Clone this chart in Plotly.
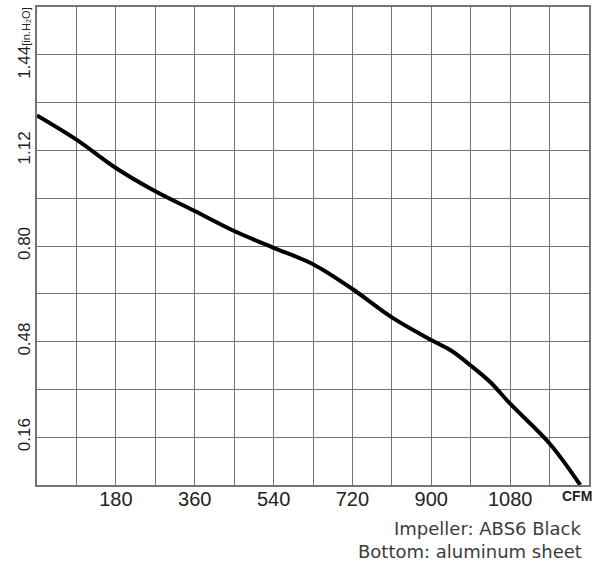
import plotly.graph_objects as go

# Data
cfm = [0, 90, 180, 270, 360, 450, 540, 630, 720, 810, 900, 945, 990, 1035, 1080, 1170, 1240]
pressure = [1.237, 1.156, 1.061, 0.983, 0.917, 0.850, 0.794, 0.739, 0.656, 0.561,
            0.485, 0.450, 0.400, 0.344, 0.272, 0.139, 0.0]

x_tick_vals = [180, 360, 540, 720, 900, 1080]
x_tick_text = ["180", "360", "540", "720", "900", "1080"]
y_tick_vals = [0.16, 0.48, 0.80, 1.12]
y_tick_text = ["0.16", "0.48", "0.80", "1.12"]
y_top_label = "1.44"
y_unit = "[in.H\u2082O]"
x_unit = "CFM"
note_lines = ["Impeller: ABS6 Black", "Bottom: aluminum sheet"]

GRID = "#747474"
NARROW = "Liberation Sans Narrow, Arial Narrow, Liberation Sans, sans-serif"

fig = go.Figure()
fig.add_trace(go.Scatter(
    x=cfm, y=pressure, mode="lines",
    line=dict(color="#000000", width=4, shape="spline", smoothing=1.0),
    hoverinfo="skip", showlegend=False,
))

fig.update_layout(
    width=606, height=564,
    margin=dict(l=37, r=17, t=5, b=79),
    paper_bgcolor="white", plot_bgcolor="white",
    xaxis=dict(
        range=[0, 1260], tickmode="array", tickvals=x_tick_vals, ticktext=x_tick_text,
        showgrid=True, gridcolor=GRID, gridwidth=1.3,
        minor=dict(dtick=90, tick0=0, showgrid=True, gridcolor=GRID, gridwidth=1.3),
        showline=True, linecolor=GRID, linewidth=1.5, mirror=True,
        ticks="", zeroline=False, ticklabelstandoff=-5,
        tickfont=dict(family=NARROW, size=20, color="#222222"),
    ),
    yaxis=dict(
        range=[0, 1.6], tickmode="array", tickvals=y_tick_vals, ticktext=y_tick_text,
        tickangle=-90,
        showgrid=True, gridcolor=GRID, gridwidth=1.3,
        minor=dict(dtick=0.16, tick0=0, showgrid=True, gridcolor=GRID, gridwidth=1.3),
        showline=True, linecolor=GRID, linewidth=1.5, mirror=True,
        ticks="", zeroline=False, ticklabelstandoff=-2,
        tickfont=dict(family=NARROW, size=17, color="#222222"),
    ),
)

# y-axis top label with unit
fig.add_annotation(
    xref="paper", yref="y", x=-0.0217, y=1.48,
    text=y_top_label + "<span style='font-size:11px'>" + y_unit + "</span>",
    textangle=-90, showarrow=False, xanchor="center", yanchor="middle",
    font=dict(family=NARROW, size=17, color="#222222"),
)

# x unit label
fig.add_annotation(
    xref="paper", yref="paper", x=0.979, y=-0.023,
    text="<b>" + x_unit + "</b>", showarrow=False, xanchor="center", yanchor="middle",
    font=dict(family=NARROW, size=14, color="#222222"),
)

# notes
note_y = [-0.0917, -0.1396]
for txt, yy in zip(note_lines, note_y):
    fig.add_annotation(
        xref="paper", yref="paper", x=0.991, y=yy, text=txt, showarrow=False,
        xanchor="right", yanchor="middle",
        font=dict(family="DejaVu Sans, sans-serif", size=18, color="#3c3c3c"),
    )

fig.write_html("out.html", config={"displayModeBar": False},
               post_script="document.body.style.margin='0';")
